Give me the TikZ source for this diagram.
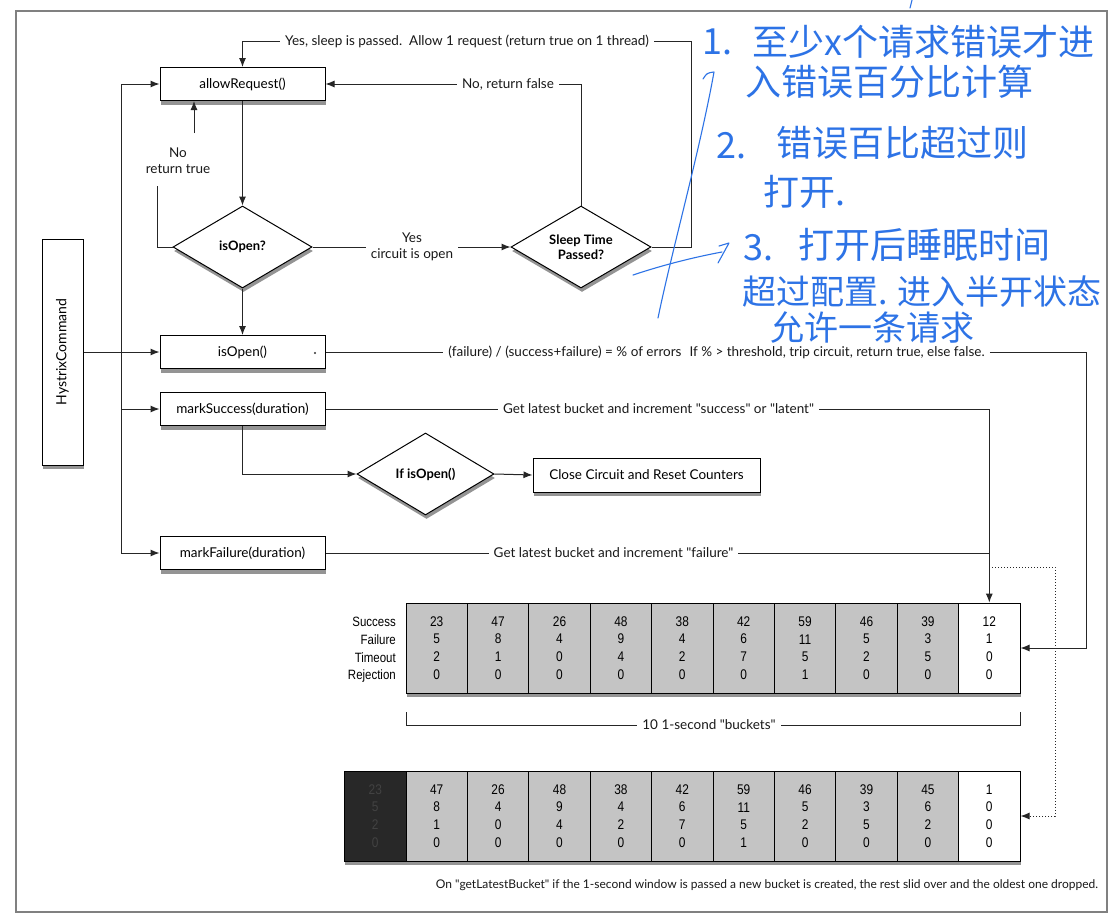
\documentclass[tikz,border=0pt]{standalone}
\usepackage{fontspec}
\setmainfont{Lato}[Ligatures=TeXOff]
\newfontfamily\narrowfont[FakeStretch=0.85]{Liberation Sans}
\newfontfamily\cjk{Noto Sans CJK SC}
\usetikzlibrary{shapes.geometric,arrows.meta,shadows}
\definecolor{hand}{RGB}{45,115,230}
\definecolor{cellgray}{RGB}{196,196,196}
\definecolor{darkcell}{RGB}{40,40,40}
\tikzset{
  boxshadow/.style={drop shadow={shadow xshift=1pt, shadow yshift=-4pt, fill=black, opacity=0.42}},
  box/.style={draw=black, line width=1pt, fill=white, minimum width=165, minimum height=33, inner sep=0pt, font=\fontsize{13.5pt}{16pt}\selectfont, boxshadow},
  dia/.style={diamond, draw=black, line width=1pt, fill=white, inner sep=0pt, align=center, font=\bfseries\fontsize{13pt}{15.5pt}\selectfont, boxshadow},
  lbl/.style={font=\fontsize{13.5pt}{16pt}\selectfont, inner xsep=5pt, inner ysep=1pt, text=black!90},
  con/.style={line width=1pt, draw=black!85},
  arr/.style={con, -{Latex[length=9pt,width=7pt]}},
  dotarr/.style={con, dotted, -{Latex[length=9pt,width=7pt]}},
  rowbox/.style={draw=black, line width=1pt, fill=white, minimum height=90, inner sep=0pt, boxshadow},
  cell/.style={draw=black, line width=0.8pt, minimum width=61.4, minimum height=90, inner sep=0pt, align=center, font=\narrowfont\fontsize{14pt}{17.7pt}\selectfont},
  rowlab/.style={align=right, inner sep=0pt, font=\narrowfont\fontsize{13.5pt}{17.7pt}\selectfont},
  hw/.style={text=hand, inner sep=0pt, anchor=west, font=\cjk\fontsize{36pt}{40pt}\selectfont},
  handline/.style={draw=hand, line width=1.1pt, line cap=round, line join=round},
}
\begin{document}
\begin{tikzpicture}[x=1pt,y=-1pt]
\useasboundingbox (0,0) rectangle (1120,921);
\fill[white] (0,0) rectangle (1120,921);
\draw[black!50, line width=1.2pt] (16,11) rectangle (1107,912);

% ---- main nodes
\node[box] (allow) at (242.5,84) {allowRequest()};
\node[dia, minimum width=139, minimum height=82, aspect=1.7] (isOpenQ) at (242.5,247) {isOpen?};
\node[dia, minimum width=140, minimum height=82, aspect=1.7] (sleep) at (581,247) {Sleep Time\\Passed?};
\node[box] (isOpenBox) at (242.5,352) {isOpen()};
\node[box] (markSuccess) at (242.5,409) {markSuccess(duration)};
\node[box] (markFailure) at (242.5,553) {markFailure(duration)};
\node[dia, minimum width=137, minimum height=82, aspect=1.7] (ifOpen) at (425.5,474) {If isOpen()};
\node[box, minimum width=227, minimum height=34] (close) at (646.5,475) {Close Circuit and Reset Counters};
\node[box, minimum width=41, minimum height=226, font=\fontsize{14pt}{16pt}\selectfont] (hystrix) at (62.5,352) {\rotatebox{90}{HystrixCommand}};
\fill[black!80] (315,353) circle (1.2);

% ---- labels
\node[lbl] (ysp) at (467,41) {Yes, sleep is passed.\ \ Allow 1 request (return true on 1 thread)};
\node[lbl] (nrf) at (508,84) {No, return false};
\node[lbl, align=center] (nrt) at (178,161) {No\\return true};
\node[lbl, align=center] (yes) at (412,247) {Yes\\circuit is open};
\node[lbl] (iol) at (716.5,352) {(failure) / (success+failure) = \% of errors\hspace{8pt}If \% > threshold, trip circuit, return true, else false.};
\node[lbl] (msl) at (658.5,409) {Get latest bucket and increment "success" or "latent"};
\node[lbl] (mfl) at (613.5,553) {Get latest bucket and increment "failure"};

% ---- helper coordinates
\coordinate (busTop) at (121,84);
\coordinate (busBot) at (121,553);
\coordinate (nrtB) at (157,186);
\coordinate (nrtT) at (194,133);
\coordinate (ysR) at (691,41);
\coordinate (ioR) at (1086,352);
\coordinate (dotS) at (992,567);
\coordinate (dotR) at (1055,567);
\coordinate (brL) at (406,712);
\coordinate (brR) at (1020,712);

% ---- connectors
\draw[arr] (allow.south) -- (isOpenQ.north);
\draw[con] (isOpenQ.west) -| (nrtB);
\draw[arr] (nrtT) -- (nrtT |- allow.south);
\draw[con] (isOpenQ.east) -- (yes.west);
\draw[arr] (yes.east) -- (sleep.west);
\draw[con] (sleep.north) |- (nrf.east);
\draw[arr] (nrf.west) -- (allow.east);
\draw[con] (sleep.east) -| (ysR) -- (ysp.east);
\draw[arr] (ysp.west) -| (allow.north);
\draw[arr] (isOpenQ.south) -- (isOpenBox.north);
\draw[arr] (hystrix.east) -- (isOpenBox.west);
\draw[con] (busTop) -- (busBot);
\draw[arr] (busTop) -- (allow.west);
\draw[arr] (busTop |- markSuccess.west) -- (markSuccess.west);
\draw[arr] (busBot) -- (markFailure.west);
\draw[arr] (markSuccess.south) |- (ifOpen.west);
\draw[arr] (ifOpen.east) -- (close.west);

% ---- buckets row 1
\node[rowbox, minimum width=614] (row1) at (713,648) {};
\foreach \s/\f/\t/\r/\c [count=\i] in {23/5/2/0/cellgray,47/8/1/0/cellgray,26/4/0/0/cellgray,48/9/4/0/cellgray,38/4/2/0/cellgray,42/6/7/0/cellgray,59/11/5/1/cellgray,46/5/2/0/cellgray,39/3/5/0/cellgray,12/1/0/0/white}
  \node[cell, fill=\c] (r1c\i) at ({406+61.4*(\i-0.5)},648) {\s\\\f\\\t\\\r};
\node[rowlab, anchor=east] (rl) at (396,650) {Success\\Failure\\Timeout\\Rejection};

% ---- buckets row 2
\node[rowbox, minimum width=676] (row2) at (682,816) {};
\node[cell, fill=darkcell, text=black!74] (r2c0) at (375.3,816) {23\\5\\2\\0};
\foreach \s/\f/\t/\r/\c [count=\i] in {47/8/1/0/cellgray,26/4/0/0/cellgray,48/9/4/0/cellgray,38/4/2/0/cellgray,42/6/7/0/cellgray,59/11/5/1/cellgray,46/5/2/0/cellgray,39/3/5/0/cellgray,45/6/2/0/cellgray,1/0/0/0/white}
  \node[cell, fill=\c] (r2c\i) at ({406+61.4*(\i-0.5)},816) {\s\\\f\\\t\\\r};

% ---- connectors to buckets
\draw[con] (isOpenBox.east) -- (iol.west);
\draw[arr] (iol.east) -- (ioR) |- (row1.east);
\draw[con] (markSuccess.east) -- (msl.west);
\draw[arr] (msl.east) -| (r1c10.north);
\draw[con] (markFailure.east) -- (mfl.west);
\draw[con] (mfl.east) -- (mfl.east -| r1c10.north);
\draw[dotarr] (dotS) -- (dotR) |- (row2.east);

% ---- brace
\node[lbl] (brl) at (709,725) {10 1-second "buckets"};
\draw[con, line width=0.7pt] (brL) |- (brl.west);
\draw[con, line width=0.7pt] (brR) |- (brl.east);

% ---- caption
\node[lbl, font=\fontsize{12pt}{14pt}\selectfont] (cap) at (767,885) {On "getLatestBucket" if the 1-second window is passed a new bucket is created, the rest slid over and the oldest one dropped.};

% ---- handwritten notes
\node[hw] (h1n) at (702,42) {1.};
\node[hw] (h1) at (752,42) {至少x个请求错误才进};
\node[hw] (h2) at (745,82) {入错误百分比计算};
\node[hw] (h3n) at (716,146) {2.};
\node[hw] (h3) at (776,143) {错误百比超过则};
\node[hw] (h4) at (763,192) {打开.};
\node[hw] (h5n) at (743,248) {3.};
\node[hw] (h5) at (798,245) {打开后睡眠时间};
\node[hw, font=\cjk\fontsize{34pt}{40pt}\selectfont] (h6) at (742,292) {超过配置. 进入半开状态};
\node[hw, font=\cjk\fontsize{34pt}{40pt}\selectfont] (h7) at (770,328) {允许一条请求};
\draw[handline] (703,79) .. controls (707,73) .. (714,72) .. controls (700,150) and (672,250) .. (658,318);
\draw[handline] (633,275) .. controls (660,266) and (690,258) .. (722,252);
\draw[handline] (719,246) -- (729,243) -- (718,263);
\draw[handline] (912,0) -- (910,8);
\end{tikzpicture}
\end{document}
